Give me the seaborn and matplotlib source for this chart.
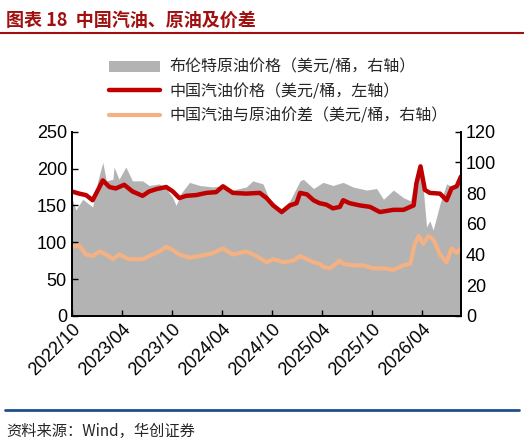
import matplotlib
matplotlib.use("Agg")
import matplotlib.pyplot as plt
import matplotlib.dates as mdates
import seaborn as sns
import pandas as pd

sns.set_theme(style="ticks")
plt.rcParams['font.family'] = ['Liberation Sans', 'Noto Sans CJK SC', 'DejaVu Sans']

red_dates = ["2022-10-01","2022-10-28","2022-11-22","2022-12-16","2023-01-10","2023-01-22","2023-02-15","2023-03-10","2023-04-10","2023-05-10","2023-06-16","2023-07-10","2023-08-04","2023-09-10","2023-10-04","2023-10-28","2023-11-22","2023-12-28","2024-02-04","2024-03-10","2024-04-04","2024-05-10","2024-06-28","2024-08-16","2024-09-10","2024-10-04","2024-11-04","2024-12-04","2024-12-28","2025-01-10","2025-02-04","2025-02-28","2025-03-22","2025-04-16","2025-05-10","2025-06-04","2025-06-16","2025-07-10","2025-08-16","2025-09-22","2025-10-28","2025-12-16","2026-01-22","2026-02-28","2026-03-10","2026-03-25","2026-04-10","2026-04-28","2026-06-04","2026-06-28","2026-07-16","2026-08-04","2026-08-19"]
gasoline = [169,166,164,157,175,184,175,173,178,169,163,169,172,175,169,160,163,164,167,168,176,167,166,167,160,150,141,150,153,167,165,157,153,151,146,148,157,153,150,148,141,144,144,150,180,203,171,167,166,157,173,176,189]

brent_dates = ["2022-10-01","2022-10-16","2022-11-10","2022-12-16","2023-01-04","2023-01-22","2023-02-04","2023-02-28","2023-03-04","2023-03-22","2023-04-16","2023-05-10","2023-06-16","2023-07-10","2023-08-16","2023-09-10","2023-10-04","2023-10-16","2023-11-04","2023-12-04","2024-01-10","2024-02-28","2024-04-04","2024-05-10","2024-06-28","2024-07-22","2024-08-28","2024-09-22","2024-10-28","2024-12-04","2025-01-10","2025-01-22","2025-02-28","2025-04-04","2025-05-10","2025-06-16","2025-07-22","2025-09-10","2025-10-16","2025-11-10","2025-12-16","2026-01-22","2026-02-16","2026-03-10","2026-03-28","2026-04-16","2026-04-28","2026-05-10","2026-06-04","2026-06-28","2026-07-22","2026-08-19"]
brent = [77,69,76,71,88,100,88,89,97,89,97,88,88,85,86,83,77,72,80,87,85,84,85,82,84,88,86,75,69,75,88,89,83,87,85,87,84,82,83,76,82,77,75,93,97,58,62,56,73,86,84,91]

spread_dates = ["2022-10-01","2022-10-28","2022-11-22","2022-12-16","2023-01-10","2023-02-04","2023-02-28","2023-03-22","2023-04-28","2023-06-16","2023-07-22","2023-08-16","2023-09-10","2023-10-04","2023-10-28","2023-12-04","2024-01-10","2024-02-28","2024-04-04","2024-05-10","2024-06-28","2024-08-04","2024-09-10","2024-10-04","2024-11-10","2024-12-16","2025-01-10","2025-02-28","2025-03-22","2025-04-04","2025-04-28","2025-06-04","2025-06-16","2025-07-22","2025-08-28","2025-10-04","2025-11-10","2025-12-16","2026-01-22","2026-02-16","2026-03-04","2026-03-19","2026-04-04","2026-04-22","2026-05-10","2026-06-04","2026-06-28","2026-07-16","2026-08-04","2026-08-19"]
spread = [45,46,40,39,42,40,37,40,37,37,40,42,45,43,40,38,39,41,44,40,42,39,35,37,35,36,39,35,34,32,31,36,34,33,33,31,31,30,33,34,47,52,47,52,50,40,35,44,41,44]

dfr = pd.DataFrame({"date": pd.to_datetime(red_dates), "v": gasoline})
dfb = pd.DataFrame({"date": pd.to_datetime(brent_dates), "v": brent})
dfs = pd.DataFrame({"date": pd.to_datetime(spread_dates), "v": spread})

fig = plt.figure(figsize=(5.24, 4.45), dpi=100)
ax = fig.add_axes([0.137, 0.29, 0.743, 0.414])
ax2 = ax.twinx()
ax.set_zorder(ax2.get_zorder() + 1)
ax.patch.set_visible(False)

ax2.fill_between(dfb["date"], dfb["v"], color="#b3b3b3", lw=0, label="布伦特原油价格（美元/桶，右轴）")
sns.lineplot(data=dfs, x="date", y="v", ax=ax2, color="#f4b183", lw=3, label="中国汽油与原油价差（美元/桶，右轴）", legend=False)
sns.lineplot(data=dfr, x="date", y="v", ax=ax, color="#c00000", lw=3.2, label="中国汽油价格（美元/桶，左轴）", legend=False)

x0, x1 = pd.Timestamp("2022-10-01"), pd.Timestamp("2026-08-20")
ax.set_xlim(x0, x1)
ax.set_ylim(0, 250); ax2.set_ylim(0, 120)
ax.set_yticks(range(0, 251, 50)); ax2.set_yticks(range(0, 121, 20))
ax.set_xticks(pd.date_range("2022-10-01", "2026-04-01", freq="6MS"))
ax.xaxis.set_major_formatter(mdates.DateFormatter("%Y/%m"))
ax.set_xlabel(""); ax.set_ylabel(""); ax2.set_ylabel("")
for a in (ax, ax2):
    a.tick_params(labelsize=13, length=4, width=1, direction="in", colors="black")
    for s in a.spines.values():
        s.set_color("black")
    a.spines["top"].set_visible(False)
plt.setp(ax.get_xticklabels(), rotation=45, ha="right", rotation_mode="anchor")

h1, l1 = ax2.get_legend_handles_labels()
h2, l2 = ax.get_legend_handles_labels()
hd = {l: h for h, l in zip(h1 + h2, l1 + l2)}
order = ["布伦特原油价格（美元/桶，右轴）", "中国汽油价格（美元/桶，左轴）", "中国汽油与原油价差（美元/桶，右轴）"]
fig.legend([hd[o] for o in order], order, loc="upper left", bbox_to_anchor=(0.18, 0.9),
           frameon=False, prop={"family": ["Noto Sans CJK SC"], "size": 11.5},
           handlelength=3.2, labelspacing=0.45, handletextpad=0.6)

fig.text(0.012, 0.955, "图表 18  中国汽油、原油及价差", fontsize=13, fontweight="bold",
         color="#a01010", family=["Noto Sans CJK SC"], va="center")
fig.add_artist(plt.Line2D([0.0, 1.0], [0.925, 0.925], color="#a01010", lw=1.5, transform=fig.transFigure))
fig.add_artist(plt.Line2D([0.01, 0.99], [0.078, 0.078], color="#1f4e8c", lw=2, transform=fig.transFigure))
fig.text(0.012, 0.03, "资料来源：Wind，华创证券", fontsize=11, style="italic",
         family=["Noto Sans CJK SC"], va="center")

fig.savefig("out.png", dpi=100, facecolor="white")
